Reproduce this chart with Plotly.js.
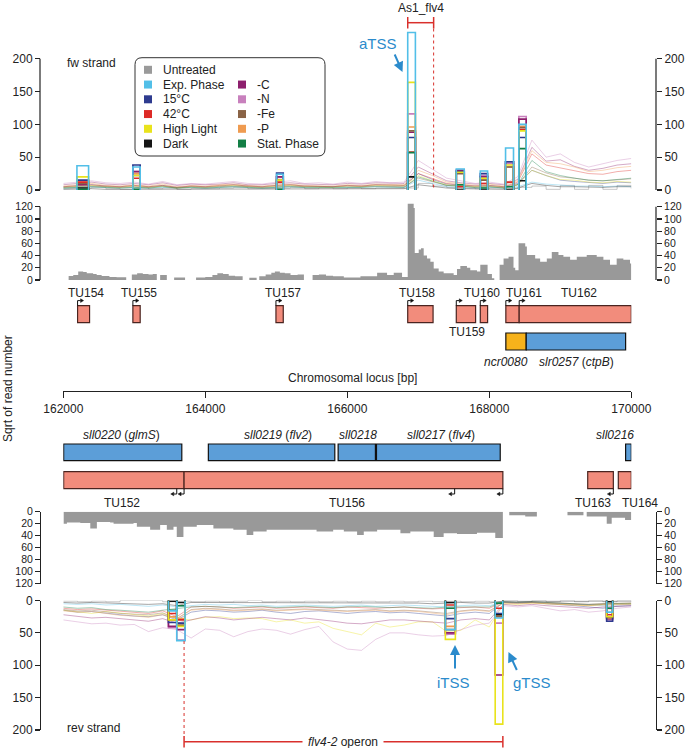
<!DOCTYPE html>
<html><head><meta charset="utf-8">
<script src="https://cdn.plot.ly/plotly-3.0.1.min.js"></script>
<style>html,body{margin:0;padding:0;background:#fff}#chart{width:688px;height:748px}</style>
</head><body><div id="chart"></div>
<script>
// ---------------- DATA ----------------
const conditions = ['Untreated','Exp. Phase','15°C','42°C','High Light','Dark','-C','-N','-Fe','-P','Stat. Phase'];
const condColors = ['#9a9a9a','#52bfe8','#2e3b8f','#dd2a26','#e9e31c','#151515','#8d1f6d','#c880bd','#8a6346','#ef9b50','#137f45'];

const gridPos = [162000,162200,162400,162600,162800,163000,163200,163400,163600,163800,164000,164200,164400,164600,164800,165000,165200,165400,165600,165800,166000,166200,166400,166600,166800,167000,167200,167400,167600,167800,168000,168200,168400,168600,168800,169000,169200,169400,169600,169800,170000];

// forward strand read coverage per condition (sqrt of read number)
const fwUntreated = [2,3,4,2,1,3,2,3,1,2,2,3,4,2,2,3,4,2,3,2,3,2,3,3,3,10,6,4,3,2,3,2,4,6,1,7,1,7,1,7,2];
const fwExp   = [3,4,5,4,3,4,3,4,3,4,3,4,5,4,3,4,5,4,4,3,4,4,5,4,4,15,10,5,4,3,4,3,5,12,9,7,6,6,5,6,5];
const fw15    = [5,6,8,6,5,7,5,7,4,6,5,6,8,6,5,7,8,6,6,5,7,6,8,7,7,25,16,9,8,6,7,5,10,30,22,15,13,11,10,12,11];
const fw42    = [5,7,8,6,5,7,5,7,4,6,5,7,8,6,5,7,8,6,6,5,7,6,8,7,7,25,18,10,8,6,7,5,12,55,38,34,30,25,24,28,30];
const fwHL    = [4,6,7,5,4,6,4,6,3,5,4,6,7,5,4,6,7,5,5,4,6,5,7,6,6,22,14,8,7,5,6,4,8,30,22,16,15,12,11,13,12];
const fwDark  = [1,2,2,1,1,2,1,2,1,1,1,2,2,1,1,2,2,1,1,1,2,1,2,2,2,8,5,3,2,2,2,1,3,10,7,5,5,4,4,5,5];
const fwC     = [8,10,12,9,8,10,8,11,7,9,8,9,11,8,8,10,11,9,9,8,10,9,11,10,10,35,25,14,11,9,10,8,16,65,44,46,36,30,33,38,40];
const fwN     = [10,12,14,11,10,12,9,13,8,10,9,11,13,10,9,12,14,10,11,9,12,10,13,11,12,45,32,18,14,10,12,9,20,76,50,55,42,35,40,45,48];
const fwFe    = [4,5,6,5,4,5,4,6,3,5,4,5,6,5,4,5,6,5,5,4,5,5,6,5,5,18,12,7,6,4,5,4,8,35,26,20,18,15,14,16,17];
const fwP     = [6,8,10,7,6,8,6,9,5,7,6,8,9,7,6,8,9,7,7,6,8,7,9,8,8,30,22,12,10,7,9,6,14,60,42,40,35,28,30,34,36];
const fwStat  = [3,4,5,4,3,4,3,5,3,4,3,4,5,4,3,4,5,4,4,3,4,4,5,4,4,20,14,7,6,4,5,3,8,45,28,22,18,15,14,16,18];

// reverse strand read coverage per condition
const revUntreated = [1,2,1,2,0,0,0,2,1,2,1,2,1,0,2,1,2,1,2,1,2,1,2,1,2,1,2,1,2,1,2,0,2,0,2,0,2,0,2,0,2];
const revExp  = [5,6,5,7,6,8,9,7,10,8,6,7,6,8,7,9,8,7,8,9,8,7,9,8,7,8,9,10,8,7,8,2,3,2,3,4,5,6,8,7,6];
const rev15   = [15,18,17,20,22,24,25,22,30,18,15,16,18,17,15,18,20,17,16,18,20,18,17,19,18,20,22,24,20,18,20,3,4,3,5,6,8,10,12,9,8];
const rev42   = [12,14,13,15,17,18,20,16,25,10,9,10,12,11,10,12,11,10,11,12,10,11,12,11,10,12,13,12,11,10,12,2,3,2,3,4,5,6,5,4,4];
const revHL   = [15,18,20,17,19,22,24,20,28,30,26,25,28,27,28,33,30,35,33,43,48,53,35,41,38,33,33,48,46,30,41,5,6,4,5,6,7,8,6,5,5];
const revDark = [3,4,3,4,5,5,6,5,8,3,3,4,4,3,3,4,4,3,4,4,3,4,4,3,4,4,5,4,3,4,4,1,1,1,1,2,2,2,2,2,1];
const revC    = [22,25,27,26,28,30,32,28,35,30,25,27,30,28,26,28,30,27,29,32,35,36,33,30,30,32,33,35,30,28,30,6,8,6,8,9,10,12,10,9,8];
const revN    = [30,33,36,35,38,37,48,42,45,58,44,46,56,48,44,46,52,45,40,64,75,77,60,50,50,53,55,54,45,38,35,8,10,8,12,16,14,18,16,12,10];
const revFe   = [14,16,15,18,20,21,22,19,28,14,12,13,15,14,13,15,14,13,14,15,16,15,14,16,15,16,18,20,16,14,16,3,4,3,4,5,6,7,6,5,5];
const revP    = [16,18,17,20,23,24,26,22,28,15,13,14,16,15,14,16,15,14,15,16,17,16,15,17,16,17,19,22,17,15,17,4,5,4,5,6,7,8,7,6,6];
const revStat = [10,12,11,14,15,16,18,15,12,10,9,10,11,10,9,11,10,9,10,11,10,9,10,11,10,11,12,10,10,9,10,2,3,2,3,4,5,6,5,4,4];

// TSS windows (highlighted) and per-condition values
const fwTssStart = [162192,162980,165004,166851,167535,167873,168229,168416];
const fwTssEnd   = [162356,163083,165098,166959,167647,167976,168341,168520];
const fwTssExp  = [37,35,24,240,32,29,64,100];
const fwTss15   = [15,38,26,80,28,25,43,80];
const fwTss42   = [12,18,12,58,5,10,12,92];
const fwTssHL   = [20,22,15,164,27,18,38,90];
const fwTssDark = [3,0,0,20,0,0,0,14];
const fwTssC    = [8,28,20,88,30,20,43,108];
const fwTssN    = [10,28,20,116,29,22,40,112];
const fwTssFe   = [10,22,15,90,25,15,35,95];
const fwTssP    = [14,25,16,96,26,15,35,97];
const fwTssStat = [1,1,1,57,8,3,5,63];

const revTssStart = [163481,163598,167381,168083,169653];
const revTssEnd   = [163598,163715,167522,168190,169737];
const revTssExp  = [16,62,45,27,18];
const revTss15   = [34,35,28,20,32];
const revTss42   = [20,30,7,12,22];
const revTssHL   = [30,40,60,191,25];
const revTssDark = [1,3,3,22,2];
const revTssC    = [40,45,50,115,28];
const revTssN    = [42,61,52,35,30];
const revTssFe   = [30,38,45,25,26];
const revTssP    = [25,28,40,24,27];
const revTssStat = [15,8,12,4,12];

// untreated coverage (gray), step profile; 0 marks uncovered gaps
const fwCovPos = [162075,162140,162210,162280,162330,162420,162470,162540,162650,162750,162886,
  162965,163040,163120,163200,163260,163317,
  163364,163458,
  163561,163715,
  163870,164000,164100,164170,164250,164330,164420,164526,
  164620,164723,
  164760,164850,164930,164980,165050,165120,165200,165300,165389,
  165511,165600,165700,165800,165951,166185,166420,166560,166654,166771,166851,166935,166950,167006,167038,167076,167123,167170,167217,167287,167357,167498,167545,167592,167685,167732,167826,167873,167976,168037,168070,
  168145,168201,168271,168341,168365,168412,168506,168529,168646,168716,168810,168880,168974,169044,169138,169232,169372,169513,169607,169700,169794,169888,169982,170000];
const fwCovVal = [6.5,8,14,13,11,10,8,6.5,5,4.5,0,
  9,11,10,9,10,0,
  8,0,
  4,0,
  4,5,8,11,10,7,6,0,
  3.5,0,
  6,9,12,14,12,11,8,9,0,
  8,9,7,6,4,6,12,8,12,5,125,118,44,50,52,40,35,30,19,14,11,8,18,23,20,16,14,25,10,3,0,
  25,35,38,20,16,60,55,41,35,30,35,46,41,38,33,38,41,38,33,25,35,33,27,27];

const revCovPos = [162004,162051,162239,162380,162473,162660,162708,162989,163036,163176,163223,163364,163458,163552,163598,163692,163880,164114,164395,164582,164676,164864,165567,165801,165951,166138,166232,166420,166748,166888,167217,167357,167545,167826,168084,168191,
  168281,168506,168670,
  169101,169326,
  169372,169654,169724,169912,170000];
const revCovVal = [20,18,19,28,17,18,20,19,25,25,30,22,30,25,42,25,22,28,30,39,33,30,33,30,33,39,33,30,36,33,42,36,37,35,44,0,
  6,8,0,
  6,0,
  8,20,10,14,14];

// annotation tracks
const fwTuName  = ['TU154','TU155','TU157','TU158','TU159','TU160','TU161','TU162'];
const fwTuStart = [162201,162980,164995,166851,167535,167873,168233,168421];
const fwTuEnd   = [162370,163083,165098,167208,167807,167976,168421,170000];
const fwGeneName  = ['<i>ncr0080</i>','<i>slr0257</i> (<i>ctpB</i>)'];
const fwGeneStart = [168233,168520];
const fwGeneEnd   = [168520,169920];
const revGeneName  = ['<i>sll0220</i> (<i>glmS</i>)','<i>sll0219</i> (<i>flv2</i>)','<i>sll0218</i>','<i>sll0217</i> (<i>flv4</i>)','<i>sll0216</i>'];
const revGeneStart = [162005,164043,165871,166411,169920];
const revGeneEnd   = [163669,165824,166396,168154,170000];
const revTuName  = ['TU152','TU156','TU163','TU164'];
const revTuStart = [162005,163701,169386,169817];
const revTuEnd   = [163701,168191,169747,170000];
const revArrowPos = [163598,163701,167512,168191,169747];
const as1Range = [166851,167216];
const operonRange = [163701,168191];
const xTickVals = [162000,164000,166000,168000,170000];

// ---------------- LAYOUT HELPERS ----------------
const F = 'Liberation Sans, Arial, sans-serif';
const W = 688, H = 748, PL = 40, PR = 656;
const pxX = v => (v - PL) / (PR - PL);
const pyY = v => 1 - v / H;
const dom = (bot, top) => [pyY(bot), pyY(top)];
const BP_PER_PX = 8000 / 568;
const INK = '#222';

const traces = [];
const fwSeries = [fwUntreated, fwExp, fw15, fw42, fwHL, fwDark, fwC, fwN, fwFe, fwP, fwStat];
const revSeries = [revUntreated, revExp, rev15, rev42, revHL, revDark, revC, revN, revFe, revP, revStat];
const fwTss = [null, fwTssExp, fwTss15, fwTss42, fwTssHL, fwTssDark, fwTssC, fwTssN, fwTssFe, fwTssP, fwTssStat];
const revTss = [null, revTssExp, revTss15, revTss42, revTssHL, revTssDark, revTssC, revTssN, revTssFe, revTssP, revTssStat];

// faint coverage lines
[['y', fwSeries], ['y7', revSeries]].forEach(([ya, series]) => {
  series.forEach((s, i) => {
    traces.push({type:'scatter', mode:'lines', x:gridPos, y:s, xaxis:'x', yaxis:ya,
      line:{color:condColors[i], width:1, shape: i === 0 ? 'hv' : 'linear'}, opacity: i === 0 ? 0.55 : 0.38,
      hoverinfo:'skip', showlegend:false});
  });
});

// highlighted TSS windows
const boldOrder = [7, 6, 9, 8, 3, 2, 4, 5, 10, 1];
function boldTrace(starts, ends, vals, color, ya) {
  const x = [], y = [];
  for (let k = 0; k < starts.length; k++) {
    x.push(starts[k], starts[k], ends[k], ends[k], null);
    y.push(0, vals[k], vals[k], 0, null);
  }
  return {type:'scatter', mode:'lines', x, y, xaxis:'x', yaxis:ya, line:{color, width:1.6},
    hoverinfo:'skip', showlegend:false};
}
boldOrder.forEach(i => traces.push(boldTrace(fwTssStart, fwTssEnd, fwTss[i], condColors[i], 'y')));
boldOrder.forEach(i => traces.push(boldTrace(revTssStart, revTssEnd, revTss[i], condColors[i], 'y7')));

// gray coverage
traces.push({type:'scatter', mode:'lines', x:fwCovPos, y:fwCovVal, xaxis:'x', yaxis:'y3',
  line:{width:0, shape:'hv', color:'#999'}, fill:'tozeroy', fillcolor:'#999999', hoverinfo:'skip', showlegend:false});
traces.push({type:'scatter', mode:'lines', x:revCovPos, y:revCovVal, xaxis:'x', yaxis:'y5',
  line:{width:0, shape:'hv', color:'#999'}, fill:'tozeroy', fillcolor:'#999999', hoverinfo:'skip', showlegend:false});

// anchors for mirrored right axes
['y2','y4','y6','y8'].forEach(ya => traces.push({type:'scatter', mode:'markers', x:[166000], y:[0],
  xaxis:'x', yaxis:ya, marker:{size:1, opacity:0}, hoverinfo:'skip', showlegend:false}));

// ---------------- AXES ----------------
const baseY = {ticks:'outside', ticklen:5, tickwidth:1.2, tickcolor:INK, linecolor:INK, linewidth:1.2,
  showgrid:false, zeroline:false, tickfont:{family:F, size:12, color:INK}, anchor:'free', fixedrange:true};
const covFont = {family:F, size:10.5, color:INK};
const tss = [0,50,100,150,200], cov = [0,20,40,60,80,100,120];
const layout = {
  width:W, height:H, margin:{l:PL, r:W-PR, t:0, b:0}, paper_bgcolor:'#fff', plot_bgcolor:'rgba(0,0,0,0)',
  showlegend:false, font:{family:F, size:12, color:INK},
  xaxis:{domain:[pxX(63.3), pxX(631.3)], range:[162000,170000], anchor:'free', position:pyY(391), side:'bottom',
    ticks:'outside', ticklen:6, tickwidth:1.2, tickcolor:INK, showline:true, linecolor:INK, linewidth:1.2,
    showgrid:false, zeroline:false, tickvals:xTickVals, ticktext:xTickVals.map(String),
    tickfont:{family:F, size:12, color:INK}, fixedrange:true},
  yaxis: {...baseY, domain:dom(190, 25.9), range:[0,250], tickvals:tss, showline:false, position:0},
  yaxis2:{...baseY, domain:dom(190, 25.9), range:[0,250], tickvals:tss, showline:false, position:1, side:'right', overlaying:'y'},
  yaxis3:{...baseY, domain:dom(280, 201.8), range:[0,128], tickvals:cov, showline:false, position:0, tickfont:covFont},
  yaxis4:{...baseY, domain:dom(280, 201.8), range:[0,128], tickvals:cov, showline:false, position:1, side:'right', overlaying:'y3', tickfont:covFont},
  yaxis5:{...baseY, domain:dom(583.7, 511.7), range:[120,0], tickvals:cov, showline:true, position:0, tickfont:covFont},
  yaxis6:{...baseY, domain:dom(583.7, 511.7), range:[120,0], tickvals:cov, showline:true, position:1, side:'right', overlaying:'y5', tickfont:covFont},
  yaxis7:{...baseY, domain:dom(730, 600.5), range:[200,0], tickvals:tss, showline:true, position:0},
  yaxis8:{...baseY, domain:dom(730, 600.5), range:[200,0], tickvals:tss, showline:true, position:1, side:'right', overlaying:'y7'},
  shapes:[], annotations:[]
};
const S = layout.shapes, A = layout.annotations;

// manual axis lines for panels whose data exceed the last tick
[['y',200],['y3',120]].forEach(([ya, top]) => [0,1].forEach(xp =>
  S.push({type:'line', xref:'paper', yref:ya, x0:xp, x1:xp, y0:0, y1:top, line:{color:INK, width:1.2}})));

// ---------------- ANNOTATION TRACKS ----------------
const TU_FILL = '#f28c7c', TU_LINE = '#4a2420', GENE_BLUE = '#5c9ed8', GENE_ORANGE = '#f6b21b';
fwTuStart.forEach((s, k) => S.push({type:'rect', xref:'x', yref:'paper', x0:s, x1:fwTuEnd[k],
  y0:pyY(322.7), y1:pyY(305.7), fillcolor:TU_FILL, line:{color:TU_LINE, width:1.2}}));
fwGeneStart.forEach((s, k) => S.push({type:'rect', xref:'x', yref:'paper', x0:s, x1:fwGeneEnd[k],
  y0:pyY(350), y1:pyY(333), fillcolor: k === 0 ? GENE_ORANGE : GENE_BLUE, line:{color:'#111', width:1.2}}));
revGeneStart.forEach((s, k) => S.push({type:'rect', xref:'x', yref:'paper', x0:s, x1:revGeneEnd[k],
  y0:pyY(460.7), y1:pyY(444), fillcolor:GENE_BLUE, line:{color:'#111', width:1.2}}));
revTuStart.forEach((s, k) => S.push({type:'rect', xref:'x', yref:'paper', x0:s, x1:revTuEnd[k],
  y0:pyY(488.7), y1:pyY(471.7), fillcolor:TU_FILL, line:{color:TU_LINE, width:1.2}}));

// bent TSS arrows
const aLen = 6 * BP_PER_PX, hLen = 3 * BP_PER_PX;
fwTuStart.forEach(x => {
  const yb = pyY(305.7), yt = pyY(300.6);
  S.push({type:'path', xref:'x', yref:'paper', path:`M ${x},${yb} L ${x},${yt} L ${x + aLen - hLen},${yt}`, line:{color:'#111', width:1}});
  S.push({type:'path', xref:'x', yref:'paper', path:`M ${x + aLen},${yt} L ${x + aLen - hLen},${pyY(298.8)} L ${x + aLen - hLen},${pyY(302.4)} Z`, fillcolor:'#111', line:{color:'#111', width:0.5}});
});
revArrowPos.forEach(x => {
  const yt = pyY(488.7), yb = pyY(494);
  S.push({type:'path', xref:'x', yref:'paper', path:`M ${x},${yt} L ${x},${yb} L ${x - aLen + hLen},${yb}`, line:{color:'#111', width:1}});
  S.push({type:'path', xref:'x', yref:'paper', path:`M ${x - aLen},${yb} L ${x - aLen + hLen},${pyY(492.2)} L ${x - aLen + hLen},${pyY(495.8)} Z`, fillcolor:'#111', line:{color:'#111', width:0.5}});
});

// As1_flv4 and operon brackets
const RED = '#d9302c';
S.push({type:'line', xref:'x', yref:'paper', x0:as1Range[0], x1:as1Range[1], y0:pyY(22.7), y1:pyY(22.7), line:{color:RED, width:1.5}});
as1Range.forEach(x => S.push({type:'line', xref:'x', yref:'paper', x0:x, x1:x, y0:pyY(17), y1:pyY(28.5), line:{color:RED, width:1.5}}));
S.push({type:'line', xref:'x', yref:'paper', x0:as1Range[1], x1:as1Range[1], y0:pyY(28.5), y1:pyY(190), line:{color:RED, width:1, dash:'dot'}});
S.push({type:'line', xref:'x', yref:'paper', x0:operonRange[0], x1:operonRange[1], y0:pyY(741.7), y1:pyY(741.7), line:{color:RED, width:1.5}});
operonRange.forEach(x => S.push({type:'line', xref:'x', yref:'paper', x0:x, x1:x, y0:pyY(736), y1:pyY(747.5), line:{color:RED, width:1.5}}));
S.push({type:'line', xref:'x', yref:'paper', x0:operonRange[0], x1:operonRange[0], y0:pyY(641), y1:pyY(736), line:{color:RED, width:1, dash:'dot'}});

// ---------------- TEXT ----------------
function txt(x, y, text, opt = {}) {
  A.push(Object.assign({xref:'paper', yref:'paper', x:pxX(x), y:pyY(y), text, showarrow:false,
    xanchor:'center', yanchor:'middle', font:{family:F, size:12, color:INK}}, opt));
}
// TU labels (pixel centres)
const fwTuLabelPx = [86, 139, 282.7, 416.5, 466.7, 482.3, 523.8, 579];
fwTuName.forEach((n, k) => txt(fwTuLabelPx[k], k === 4 ? 331.7 : 292.7, n));
const revTuLabelPx = [121.7, 347, 593, 640];
revTuName.forEach((n, k) => txt(revTuLabelPx[k], 503.3, n));
const fwGeneLabelPx = [506.3, 576.8];
fwGeneName.forEach((n, k) => txt(fwGeneLabelPx[k], 362.3, n));
const revGeneLabelPx = [121.7, 277.5, 357.8, 441.2, 615.2];
revGeneName.forEach((n, k) => txt(revGeneLabelPx[k], 435, n));

txt(352.3, 378, 'Chromosomal locus [bp]');
txt(8, 389, 'Sqrt of read number', {textangle:-90});
txt(65, 63.3, 'fw strand', {xanchor:'left'});
txt(65, 728, 'rev strand', {xanchor:'left'});
txt(421.3, 8.5, 'As1_flv4');
A.push({xref:'paper', yref:'paper', x:pxX(343), y:pyY(741.7), text:'<i>flv4-2</i> operon', showarrow:false,
  xanchor:'center', yanchor:'middle', bgcolor:'#fff', borderpad:5, font:{family:F, size:12, color:INK}});

// TSS type callouts
const BLUE = '#2b8bcc';
txt(378, 43.5, 'aTSS', {font:{family:F, size:15, color:BLUE}});
txt(453.8, 682.5, 'iTSS', {font:{family:F, size:15, color:BLUE}});
txt(531.5, 682.5, 'gTSS', {font:{family:F, size:15, color:BLUE}});
[[402.5, 72, -8.5, -19], [455, 645, 0, 25], [508.5, 652, 9, 19.5]].forEach(([x, y, ax, ay]) =>
  A.push({xref:'paper', yref:'paper', x:pxX(x), y:pyY(y), ax, ay, text:'', showarrow:true,
    arrowhead:2, arrowsize:1, arrowwidth:2, arrowcolor:BLUE}));

// ---------------- LEGEND (drawn) ----------------
(() => {
  const x0 = pxX(135), x1 = pxX(325), yt = pyY(57.7), yb = pyY(156);
  const rx = 7 / (PR - PL), ry = 7 / H;
  S.push({type:'path', xref:'paper', yref:'paper', line:{color:'#333', width:1}, fillcolor:'#fff',
    path:`M ${x0 + rx},${yt} L ${x1 - rx},${yt} Q ${x1},${yt} ${x1},${yt - ry} L ${x1},${yb + ry} Q ${x1},${yb} ${x1 - rx},${yb} L ${x0 + rx},${yb} Q ${x0},${yb} ${x0},${yb + ry} L ${x0},${yt - ry} Q ${x0},${yt} ${x0 + rx},${yt} Z`});
  const slots = [[0,0],[0,1],[0,2],[0,3],[0,4],[0,5],[1,1],[1,2],[1,3],[1,4],[1,5]];
  const colSq = [148, 242], colTx = [161, 255];
  conditions.forEach((c, i) => {
    const [col, row] = slots[i];
    const cy = 69.8 + row * 14.75, cx = colSq[col];
    S.push({type:'rect', xref:'paper', yref:'paper', x0:pxX(cx - 4), x1:pxX(cx + 4), y0:pyY(cy + 4), y1:pyY(cy - 4),
      fillcolor:condColors[i], line:{width:0}});
    txt(colTx[col], cy, c, {xanchor:'left'});
  });
})();

Plotly.newPlot('chart', traces, layout, {staticPlot:true, displayModeBar:false});
</script>
</body></html>
